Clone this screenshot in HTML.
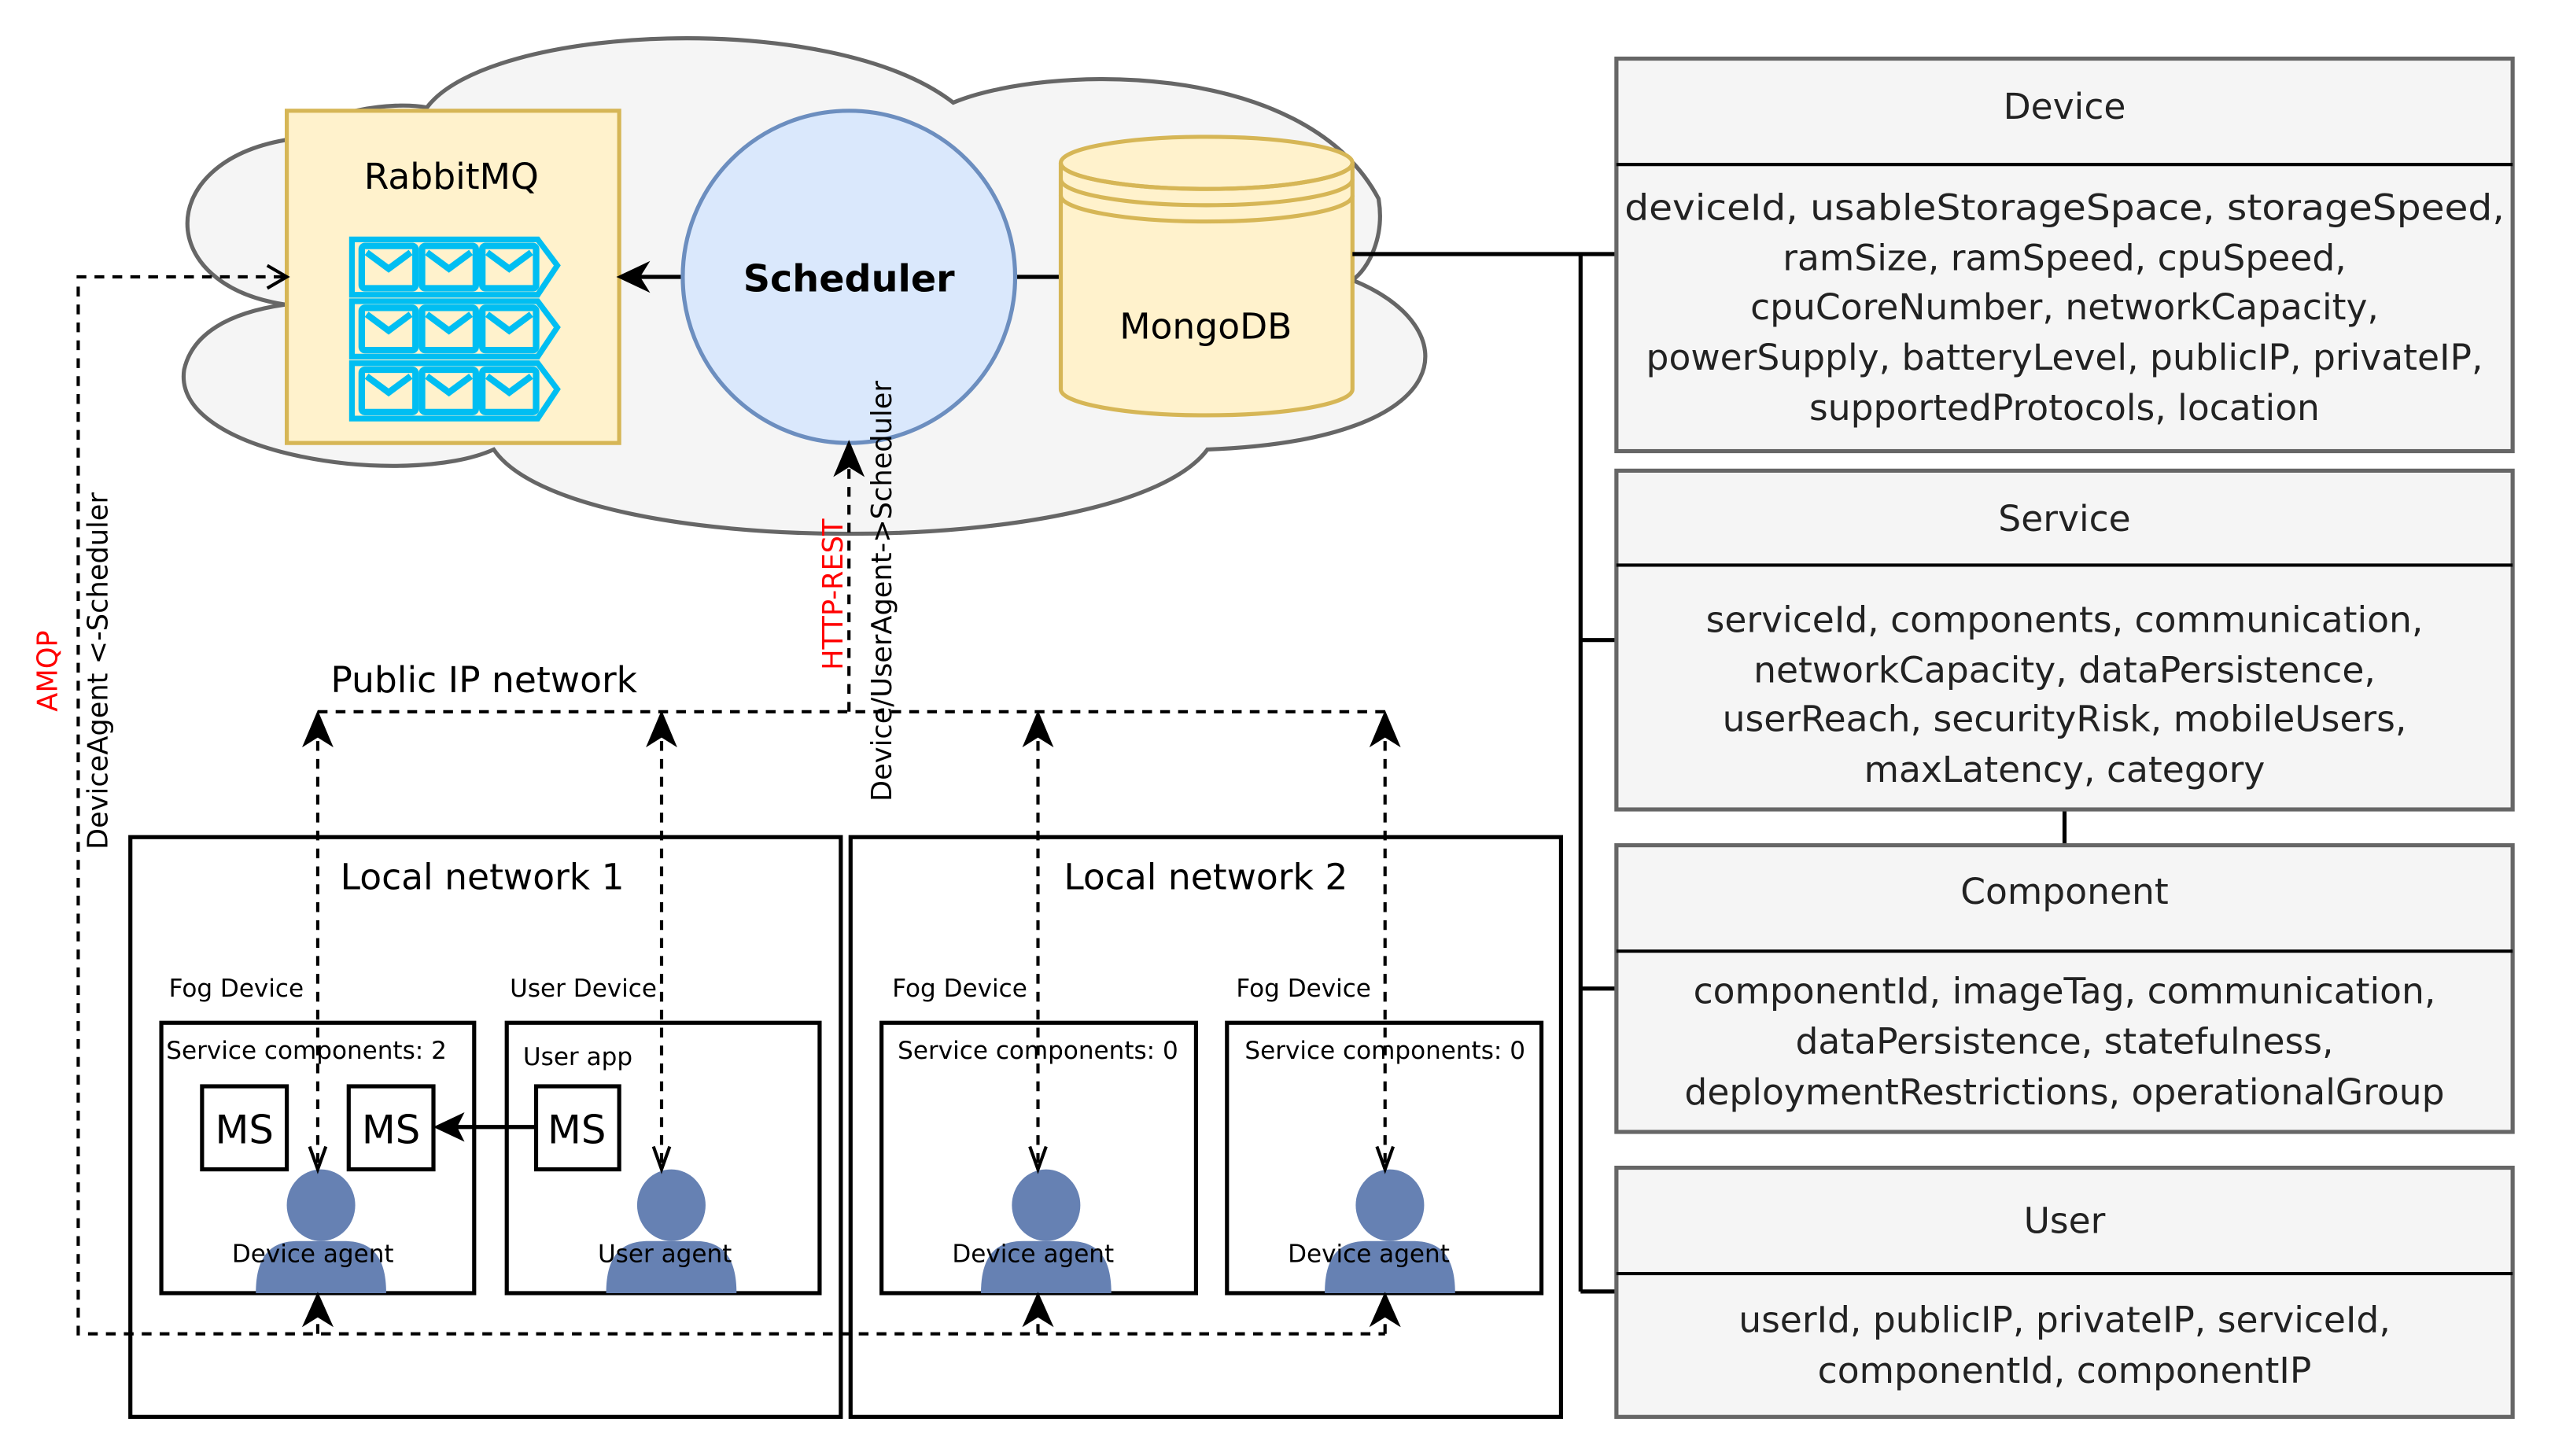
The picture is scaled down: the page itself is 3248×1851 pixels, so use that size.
<!DOCTYPE html>
<html><head><meta charset="utf-8"><style>
html,body{margin:0;padding:0;background:#fff}
svg{display:block}
text{font-family:"DejaVu Sans","Liberation Sans",sans-serif}
</style></head><body>
<svg width="3248" height="1851" viewBox="0 0 1568 894" preserveAspectRatio="none" xmlns="http://www.w3.org/2000/svg">
<defs>
<g id="env"><rect x="0" y="0" width="33" height="26" rx="2" fill="none" stroke="#00bef2" stroke-width="4"/><polyline points="3,4 16.5,14 30,4" fill="none" stroke="#00bef2" stroke-width="4"/></g>
<g id="qrow"><path d="M216,2 L330,2 L342,18 L330,36 L216,36 Z" fill="none" stroke="#00bef2" stroke-width="3.5"/>
<use href="#env" x="222" y="6"/><use href="#env" x="259" y="6"/><use href="#env" x="296" y="6"/></g>
<g id="person"><ellipse cx="0" cy="0" rx="21" ry="22" fill="#6681b3"/><path d="M-40,54 C-40,30 -30,22 -14,22 L14,22 C30,22 40,30 40,54 Z" fill="#6681b3"/></g>
</defs>
<path d="M175,86 C200,68 240,62 262,66 C300,15 510,5 585,63 C640,40 800,35 846,122 C850,145 840,165 830,172 C900,200 900,270 741,276 C690,345 350,345 303,276 C250,300 105,280 113,227 C118,205 140,192 175,187 C95,175 95,100 175,86 Z" fill="#f5f5f5" stroke="#666" stroke-width="2.5"/>
<rect x="176" y="68" width="204" height="204" fill="#fff2cc" stroke="#d6b656" stroke-width="2.5"/>
<text x="277" y="116" font-size="22" text-anchor="middle">RabbitMQ</text>
<use href="#qrow" y="145"/><use href="#qrow" y="183"/><use href="#qrow" y="221"/>
<line x1="419" y1="170" x2="392" y2="170" stroke="#000" stroke-width="2.5"/>
<path d="M380,170 L397,162 L392,170 L397,178 Z" fill="#000" stroke="#000" stroke-width="1.5"/>
<line x1="623" y1="170" x2="651" y2="170" stroke="#000" stroke-width="2.5"/>
<ellipse cx="521" cy="170" rx="102" ry="102" fill="#dae8fc" stroke="#6c8ebf" stroke-width="2.5"/>
<text x="521" y="179" font-size="23" font-weight="bold" text-anchor="middle">Scheduler</text>
<path d="M651,100 L651,239 A89.5,16 0 0 0 830,239 L830,100" fill="#fff2cc" stroke="#d6b656" stroke-width="2.5"/>
<ellipse cx="740.5" cy="100" rx="89.5" ry="16" fill="#fff2cc" stroke="#d6b656" stroke-width="2.5"/>
<path d="M651,100 A89.5,16 0 0 0 830,100 M651,110 A89.5,16 0 0 0 830,110 M651,120 A89.5,16 0 0 0 830,120" fill="none" stroke="#d6b656" stroke-width="2.5"/>
<text x="740" y="208" font-size="22" text-anchor="middle">MongoDB</text>
<g stroke="#000" stroke-width="2.5" fill="none">
<line x1="830" y1="156" x2="992" y2="156"/>
<line x1="970" y1="156" x2="970" y2="793"/>
<line x1="970" y1="393" x2="992" y2="393"/>
<line x1="970" y1="607" x2="992" y2="607"/>
<line x1="970" y1="793" x2="992" y2="793"/>
<line x1="1267" y1="497" x2="1267" y2="519"/>
</g>
<g fill="#f5f5f5" stroke="#666" stroke-width="2.5">
<rect x="992" y="36" width="550" height="241"/>
<rect x="992" y="289" width="550" height="208"/>
<rect x="992" y="519" width="550" height="176"/>
<rect x="992" y="717" width="550" height="153"/>
</g>
<g stroke="#000" stroke-width="2">
<line x1="992" y1="101" x2="1542" y2="101"/>
<line x1="992" y1="347" x2="1542" y2="347"/>
<line x1="992" y1="584" x2="1542" y2="584"/>
<line x1="992" y1="782" x2="1542" y2="782"/>
</g>
<g font-size="22" text-anchor="middle" fill="#222">
<text x="1267" y="73">Device</text>
<text x="1267" y="135" textLength="540" lengthAdjust="spacingAndGlyphs">deviceId, usableStorageSpace, storageSpeed,</text>
<text x="1267" y="166">ramSize, ramSpeed, cpuSpeed,</text>
<text x="1267" y="196">cpuCoreNumber, networkCapacity,</text>
<text x="1267" y="227">powerSupply, batteryLevel, publicIP, privateIP,</text>
<text x="1267" y="258">supportedProtocols, location</text>
<text x="1267" y="326">Service</text>
<text x="1267" y="388">serviceId, components, communication,</text>
<text x="1267" y="419">networkCapacity, dataPersistence,</text>
<text x="1267" y="449">userReach, securityRisk, mobileUsers,</text>
<text x="1267" y="480">maxLatency, category</text>
<text x="1267" y="555">Component</text>
<text x="1267" y="616">componentId, imageTag, communication,</text>
<text x="1267" y="647">dataPersistence, statefulness,</text>
<text x="1267" y="678">deploymentRestrictions, operationalGroup</text>
<text x="1267" y="757">User</text>
<text x="1267" y="818">userId, publicIP, privateIP, serviceId,</text>
<text x="1267" y="849">componentId, componentIP</text>
</g>
<g fill="none" stroke="#000" stroke-width="2.5">
<rect x="80" y="514" width="436" height="356"/>
<rect x="522" y="514" width="436" height="356"/>
<rect x="99" y="628" width="192" height="166"/>
<rect x="311" y="628" width="192" height="166"/>
<rect x="541" y="628" width="193" height="166"/>
<rect x="753" y="628" width="193" height="166"/>
<rect x="124" y="667" width="52" height="51"/>
<rect x="214" y="667" width="52" height="51"/>
<rect x="329" y="667" width="51" height="51"/>
</g>
<g font-size="22" text-anchor="middle">
<text x="296" y="546">Local network 1</text>
<text x="740" y="546">Local network 2</text>
<text x="297" y="425">Public IP network</text>
</g>
<g font-size="15" text-anchor="middle">
<text x="145" y="612">Fog Device</text>
<text x="358" y="612">User Device</text>
<text x="589" y="612">Fog Device</text>
<text x="800" y="612">Fog Device</text>
<text x="102" y="650" text-anchor="start">Service components: 2</text>
<text x="321" y="654" text-anchor="start">User app</text>
<text x="637" y="650">Service components: 0</text>
<text x="850" y="650">Service components: 0</text>
</g>
<g font-size="24" text-anchor="middle">
<text x="150" y="702">MS</text><text x="240" y="702">MS</text><text x="354" y="702">MS</text>
</g>
<line x1="329" y1="692" x2="280" y2="692" stroke="#000" stroke-width="2.5"/>
<path d="M267,692 L284,684 L280,692 L284,700 Z" fill="#000" stroke="#000"/>
<use href="#person" x="197" y="740"/>
<use href="#person" x="412" y="740"/>
<use href="#person" x="642" y="740"/>
<use href="#person" x="853" y="740"/>
<g font-size="15" text-anchor="middle">
<text x="192" y="775">Device agent</text>
<text x="408" y="775">User agent</text>
<text x="634" y="775">Device agent</text>
<text x="840" y="775">Device agent</text>
</g>
<g fill="none" stroke="#000" stroke-width="2" stroke-dasharray="6,5">
<polyline points="195,437 850,437"/>
<line x1="195" y1="455" x2="195" y2="716"/>
<line x1="406" y1="455" x2="406" y2="716"/>
<line x1="637" y1="455" x2="637" y2="716"/>
<line x1="850" y1="455" x2="850" y2="716"/>
<line x1="521" y1="437" x2="521" y2="288"/>
<polyline points="174,170 48,170 48,819 850,819"/>
<line x1="195" y1="819" x2="195" y2="810"/>
<line x1="637" y1="819" x2="637" y2="810"/>
<line x1="850" y1="819" x2="850" y2="810"/>
</g>
<g fill="#000" stroke="#000" stroke-width="1.5">
<path d="M195,438 L187,457 L195,452 L203,457 Z"/>
<path d="M406,438 L398,457 L406,452 L414,457 Z"/>
<path d="M637,438 L629,457 L637,452 L645,457 Z"/>
<path d="M850,438 L842,457 L850,452 L858,457 Z"/>
<path d="M521,272 L513,291 L521,286 L529,291 Z"/>
<path d="M195,795 L187,813 L195,808 L203,813 Z"/>
<path d="M637,795 L629,813 L637,808 L645,813 Z"/>
<path d="M850,795 L842,813 L850,808 L858,813 Z"/>
</g>
<g fill="none" stroke="#000" stroke-width="2">
<polyline points="190,704 195,718 200,704"/>
<polyline points="401,704 406,718 411,704"/>
<polyline points="632,704 637,718 642,704"/>
<polyline points="845,704 850,718 855,704"/>
<polyline points="164,163 176,170 164,177"/>
</g>
<g font-size="17" text-anchor="middle">
<text transform="translate(517,365) rotate(-90)" fill="#ff0000">HTTP-REST</text>
<text transform="translate(547,363) rotate(-90)">Device/UserAgent-&gt;Scheduler</text>
<text transform="translate(35,412) rotate(-90)" fill="#ff0000">AMQP</text>
<text transform="translate(66,412) rotate(-90)">DeviceAgent &lt;-Scheduler</text>
</g>
</svg>
</body></html>
